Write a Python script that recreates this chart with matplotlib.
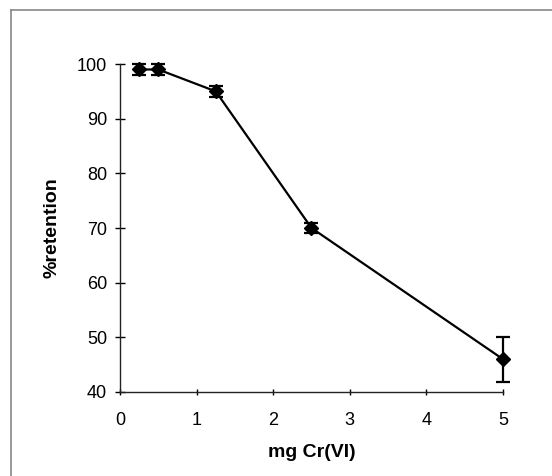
import matplotlib.pyplot as plt
from matplotlib.lines import Line2D

# Cr(VI) loading vs. retention
mg_cr = [0.25, 0.5, 1.25, 2.5, 5.0]
retention = [99, 99, 95, 70, 46]
err = [1, 1, 1, 1, 4.1]

plt.rcParams['font.family'] = ['Liberation Sans', 'DejaVu Sans']

fig = plt.figure(figsize=(5.52, 4.76), dpi=100)
ax = fig.add_axes([0.2174, 0.1765, 0.6938, 0.689])

line, caps, bars = ax.errorbar(mg_cr, retention, yerr=err, color='black', lw=1.6,
                               marker='D', ms=7, elinewidth=1.6, capsize=5, capthick=1.6)
line.set_clip_on(False)
for c in caps:
    c.set_clip_on(False)
for b in bars:
    b.set_clip_on(False)

ax.set_xlim(0, 5)
ax.set_ylim(40, 100)
ax.set_xticks(range(0, 6))
ax.set_yticks(range(40, 101, 10))
ax.spines['top'].set_visible(False)
ax.spines['right'].set_visible(False)
for s in ('left', 'bottom'):
    ax.spines[s].set_linewidth(1.0)
    ax.spines[s].set_color('#222222')
ax.tick_params(axis='y', direction='inout', length=6.5, width=1, labelsize=13, pad=6)
ax.tick_params(axis='x', direction='inout', length=5, width=1, labelsize=13, pad=12)

ax.set_xlabel('mg Cr(VI)', fontsize=14, fontweight='bold', labelpad=11)
ax.set_ylabel('%retention', fontsize=14, fontweight='bold', labelpad=12)

# outer frame (top and left only)
fig.add_artist(Line2D([11/552, 1], [1 - 10/476, 1 - 10/476], color='#888888', lw=1.2))
fig.add_artist(Line2D([11/552, 11/552], [0, 1 - 10/476], color='#888888', lw=1.2))

fig.savefig('out.png', dpi=100)
